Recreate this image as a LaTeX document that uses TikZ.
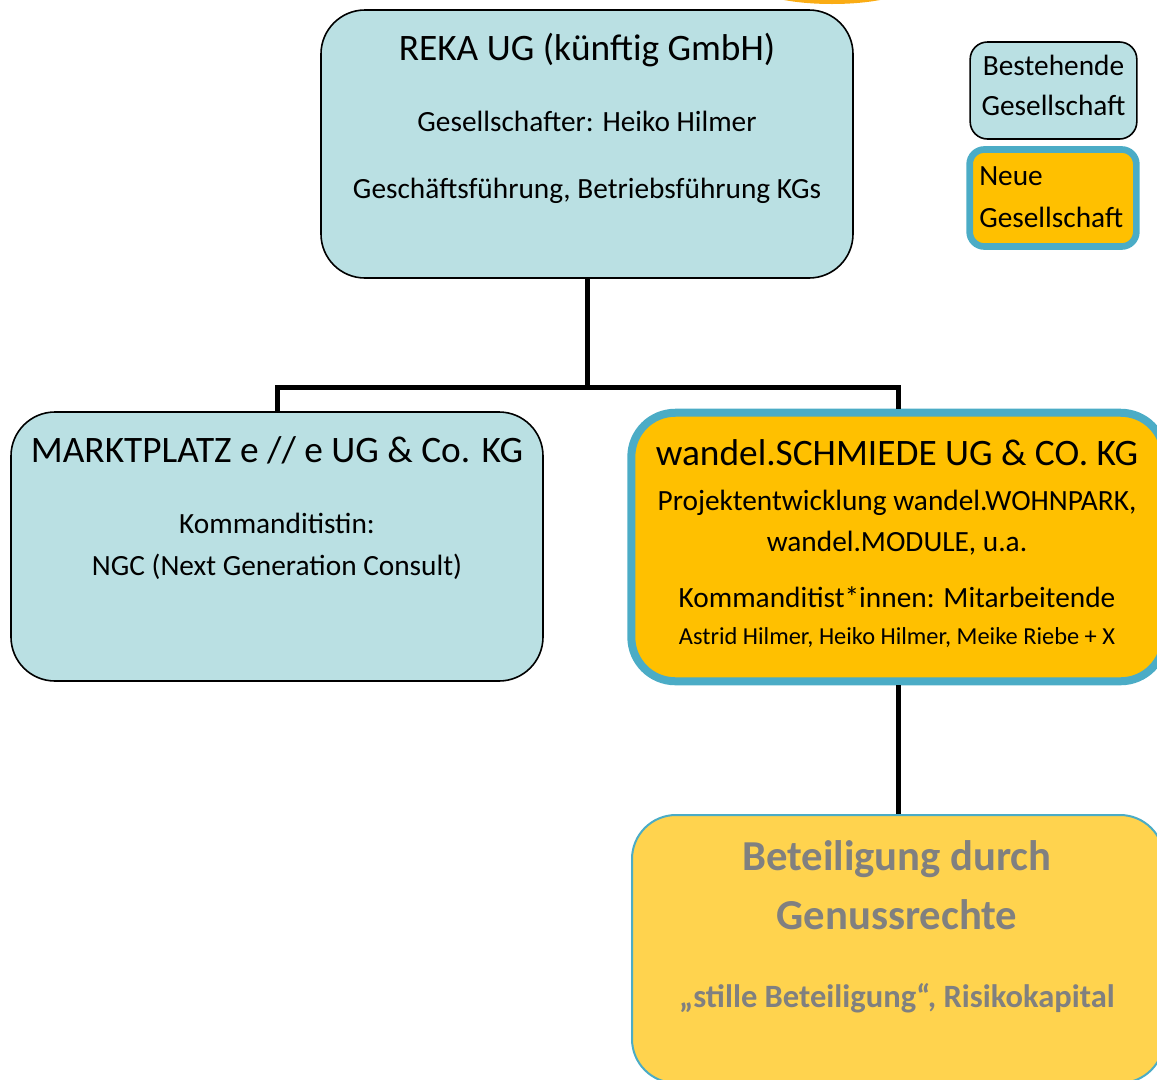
\documentclass[tikz,border=0pt]{standalone}
\usepackage{fontspec}
\setmainfont{Carlito}
\definecolor{cyanfill}{RGB}{186,224,227}
\definecolor{neworange}{RGB}{255,192,0}
\definecolor{newborder}{RGB}{75,172,198}
\definecolor{lightgold}{RGB}{255,211,78}
\definecolor{graytext}{RGB}{128,128,128}
\definecolor{arcorange}{RGB}{250,172,20}
\tikzset{
  existbox/.style={draw=black, line width=1.2pt, fill=cyanfill, rounded corners=33pt, inner sep=0pt},
  newbox/.style={draw=newborder, line width=6pt, fill=neworange, rounded corners=33pt, inner sep=0pt},
  benbox/.style={draw=newborder, line width=1.5pt, fill=lightgold, rounded corners=33pt, inner sep=0pt},
  legexist/.style={draw=black, line width=1.2pt, fill=cyanfill, rounded corners=13pt, inner sep=0pt},
  legnew/.style={draw=newborder, line width=5pt, fill=neworange, rounded corners=11pt, inner sep=0pt},
  txt/.style={anchor=base, inner sep=0pt},
  title/.style={txt, font=\fontsize{28}{32}\selectfont},
  body/.style={txt, font=\fontsize{22}{26}\selectfont},
  small/.style={txt, font=\fontsize{18.3}{22}\selectfont},
  bigbold/.style={txt, text=graytext, font=\fontsize{32}{36}\selectfont\bfseries},
  midbold/.style={txt, text=graytext, font=\fontsize{24.4}{28}\selectfont\bfseries},
  conn/.style={line width=3.75pt, black}
}
\begin{document}
\begin{tikzpicture}[x=0.75pt, y=-0.75pt]
\useasboundingbox (0,0) rectangle (1157,1079);
\clip (0,0) rectangle (1157,1079);
% partial orange shape at top
\fill[arcorange] (832,-16) ellipse [x radius=80, y radius=20];

% boxes
\node[existbox, minimum width=399pt, minimum height=201pt] (reka) at (587,144) {};
\node[existbox, minimum width=399pt, minimum height=201.75pt] (mkt) at (277,546.5) {};
\node[newbox, minimum width=400pt, minimum height=201.4pt] (wandel) at (898,547) {};
\node[benbox, minimum width=399pt, minimum height=201pt] (ben) at (898,949) {};
\node[legexist, minimum width=125pt, minimum height=72.75pt] (legA) at (1053.5,90.5) {};
\node[legnew, minimum width=125pt, minimum height=72.75pt] (legB) at (1053,198) {};

% connectors
\coordinate (bus) at (587,387);
\draw[conn] (reka.south) -- (bus);
\draw[conn] (mkt.north) |- (bus) -| (wandel.north);
\draw[conn] (wandel.south) -- (ben.north);

% REKA text
\node[title] (rekaT) at (587,60) {REKA UG (künftig GmbH)};
\node[body] (rekaA) at (587,131) {Gesellschafter: Heiko Hilmer};
\node[body] (rekaB) at (587,198) {Geschäftsführung, Betriebsführung KGs};

% MARKTPLATZ text
\node[title] (mktT) at (277,462) {MARKTPLATZ e // e UG \& Co. KG};
\node[body] (mktA) at (277,533) {Kommanditistin:};
\node[body] (mktB) at (277,575) {NGC (Next Generation Consult)};

% wandel text
\node[title] (wT) at (897,465) {wandel.SCHMIEDE UG \& CO. KG};
\node[body] (wA) at (897,510) {Projektentwicklung wandel.WOHNPARK,};
\node[body] (wB) at (897,551) {wandel.MODULE, u.a.};
\node[body] (wC) at (897,607) {Kommanditist*innen: Mitarbeitende};
\node[small] (wD) at (897,644) {Astrid Hilmer, Heiko Hilmer, Meike Riebe + X};

% Beteiligung text
\node[bigbold] (bT1) at (897,870) {Beteiligung durch};
\node[bigbold] (bT2) at (897,929) {Genussrechte};
\node[midbold] (bA) at (897,1007) {„stille Beteiligung“, Risikokapital};

% legend text
\node[body] (lA1) at (1053.5,75) {Bestehende};
\node[body] (lA2) at (1053.5,115) {Gesellschaft};
\node[body, anchor=base west] (lB1) at (979,185) {Neue};
\node[body, anchor=base west] (lB2) at (979,227) {Gesellschaft};
\end{tikzpicture}
\end{document}
